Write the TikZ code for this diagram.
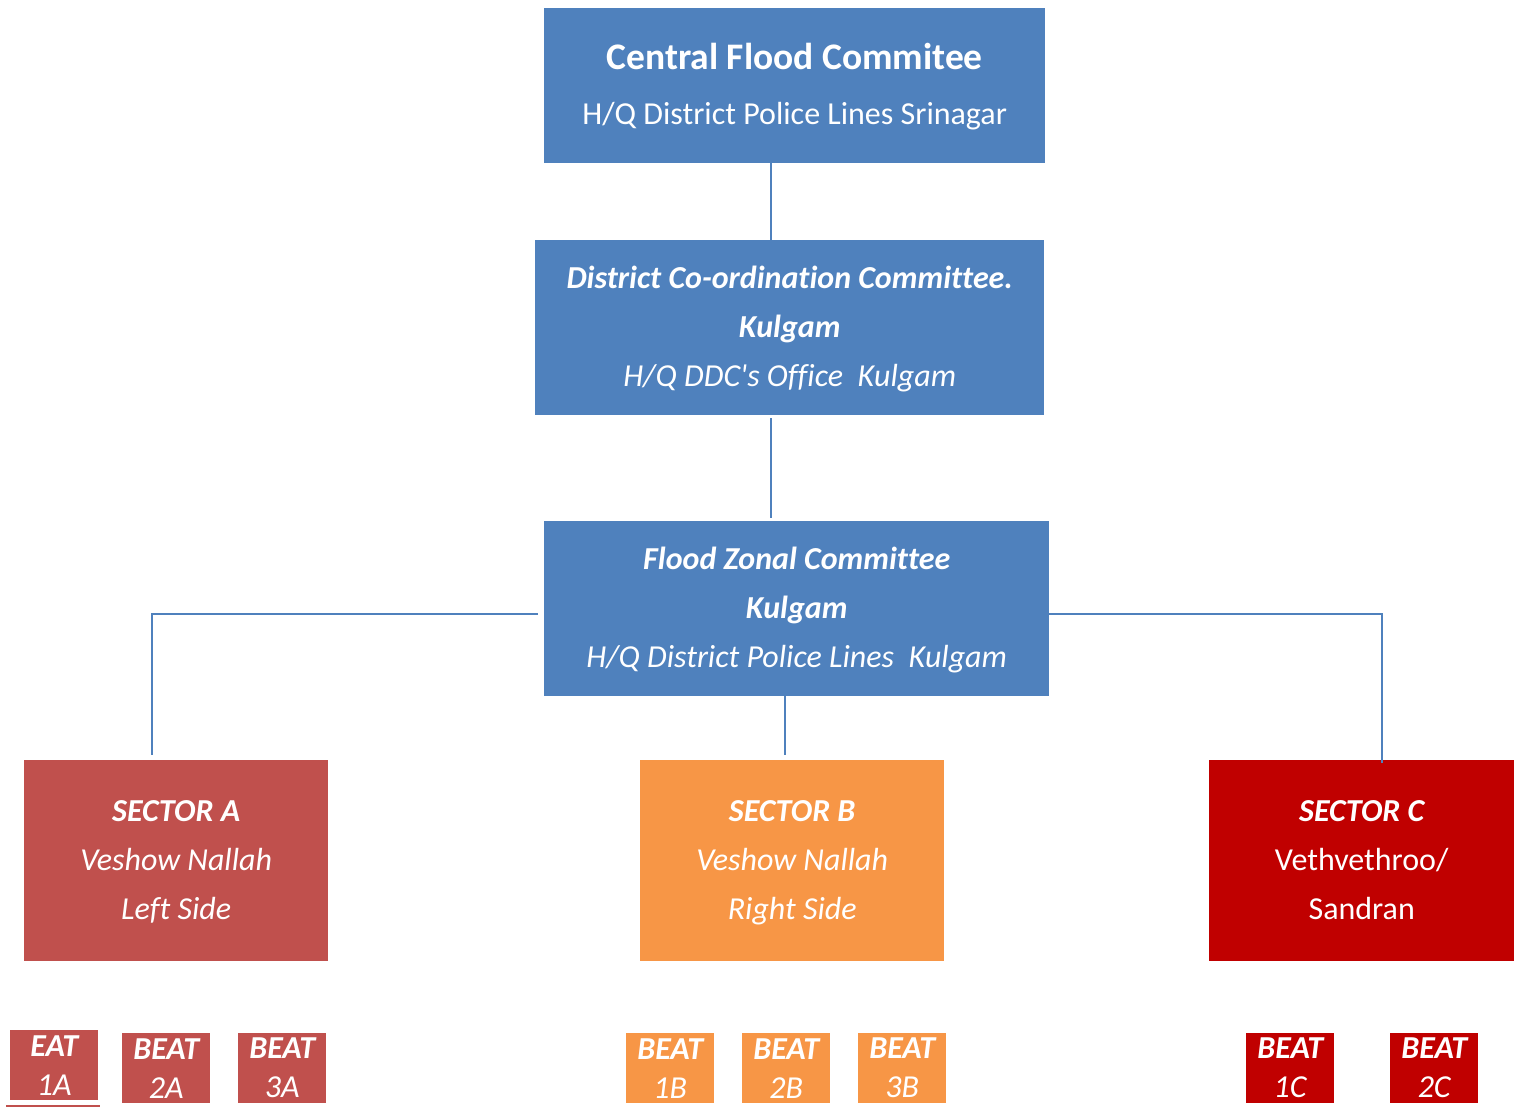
\documentclass[tikz,border=0pt]{standalone}
\usepackage{fontspec}
\setmainfont{Carlito}[Ligatures={NoCommon}]
\definecolor{cblue}{HTML}{4F81BD}
\definecolor{cred}{HTML}{C0504D}
\definecolor{corange}{HTML}{F79646}
\definecolor{cdark}{HTML}{C00000}
\begin{document}
\begin{tikzpicture}[x=1pt,y=-1pt,
  box/.style={rectangle, inner sep=0pt, text=white, align=center, anchor=north west},
  bigbox/.style={box, font=\fontsize{32}{49}\selectfont},
  beatbox/.style={box, minimum width=88pt, minimum height=70pt, font=\fontsize{32}{39}\selectfont},
  link/.style={draw=cblue, line width=2pt}]
\useasboundingbox (0,0) rectangle (1517,1107);

\node[box, fill=cblue, minimum width=501pt, minimum height=155pt, font=\fontsize{32}{55}\selectfont] (central) at (544,8)
  {{\fontsize{37.5}{55}\selectfont\bfseries Central Flood Commitee}\strut\\H/Q District Police Lines Srinagar\strut};

\node[bigbox, fill=cblue, minimum width=509pt, minimum height=175pt] (district) at (535,240)
  {\bfseries\itshape District Co-ordination Committee.\strut\\\bfseries\itshape Kulgam\\\itshape H/Q DDC\textquotesingle s Office\ \ Kulgam\strut};

\node[bigbox, fill=cblue, minimum width=505pt, minimum height=175pt] (zonal) at (544,521)
  {\bfseries\itshape Flood Zonal Committee\strut\\\bfseries\itshape Kulgam\\\itshape H/Q District Police Lines\ \ Kulgam\strut};

\node[bigbox, fill=cred, minimum width=304pt, minimum height=201pt] (secA) at (24,760)
  {\bfseries\itshape SECTOR A\strut\\\itshape Veshow Nallah\\\itshape Left Side\strut};
\node[bigbox, fill=corange, minimum width=304pt, minimum height=201pt] (secB) at (640,760)
  {\bfseries\itshape SECTOR B\strut\\\itshape Veshow Nallah\\\itshape Right Side\strut};
\node[bigbox, fill=cdark, minimum width=305pt, minimum height=201pt] (secC) at (1209,760)
  {\bfseries\itshape SECTOR C\strut\\Vethvethroo/\\Sandran\strut};

\node[beatbox, fill=cred] (b1a) at (10,1030) {\bfseries\itshape EAT\\\itshape 1A};
\node[beatbox, fill=cred] (b2a) at (122,1033) {\bfseries\itshape BEAT\\\itshape 2A};
\node[beatbox, fill=cred] (b3a) at (238,1033) {\bfseries\itshape BEAT\\\itshape 3A};
\node[beatbox, fill=corange] (b1b) at (626,1033) {\bfseries\itshape BEAT\\\itshape 1B};
\node[beatbox, fill=corange] (b2b) at (742,1033) {\bfseries\itshape BEAT\\\itshape 2B};
\node[beatbox, fill=corange] (b3b) at (858,1033) {\bfseries\itshape BEAT\\\itshape 3B};
\node[beatbox, fill=cdark] (b1c) at (1246,1033) {\bfseries\itshape BEAT\\\itshape 1C};
\node[beatbox, fill=cdark] (b2c) at (1390,1033) {\bfseries\itshape BEAT\\\itshape 2C};

\draw[draw=cred, line width=2pt] (6,1106) -- (100,1106);

% connectors
\draw[link] ([yshift=18pt]central.south -| 771,0) -- (district.north -| 771,0);
\draw[link] ([yshift=-3pt]district.south -| 771,0) -- ([yshift=3pt]zonal.north -| 771,0);
\draw[link] ([xshift=-6pt]zonal.west |- 0,614) -| ([yshift=5pt]secA.north -| 152,0);
\draw[link] (zonal.east |- 0,614) -| ([yshift=-3pt]secC.north -| 1382,0);
\draw[link] (zonal.south -| 785,0) -- ([yshift=5pt]secB.north -| 785,0);
\end{tikzpicture}
\end{document}
